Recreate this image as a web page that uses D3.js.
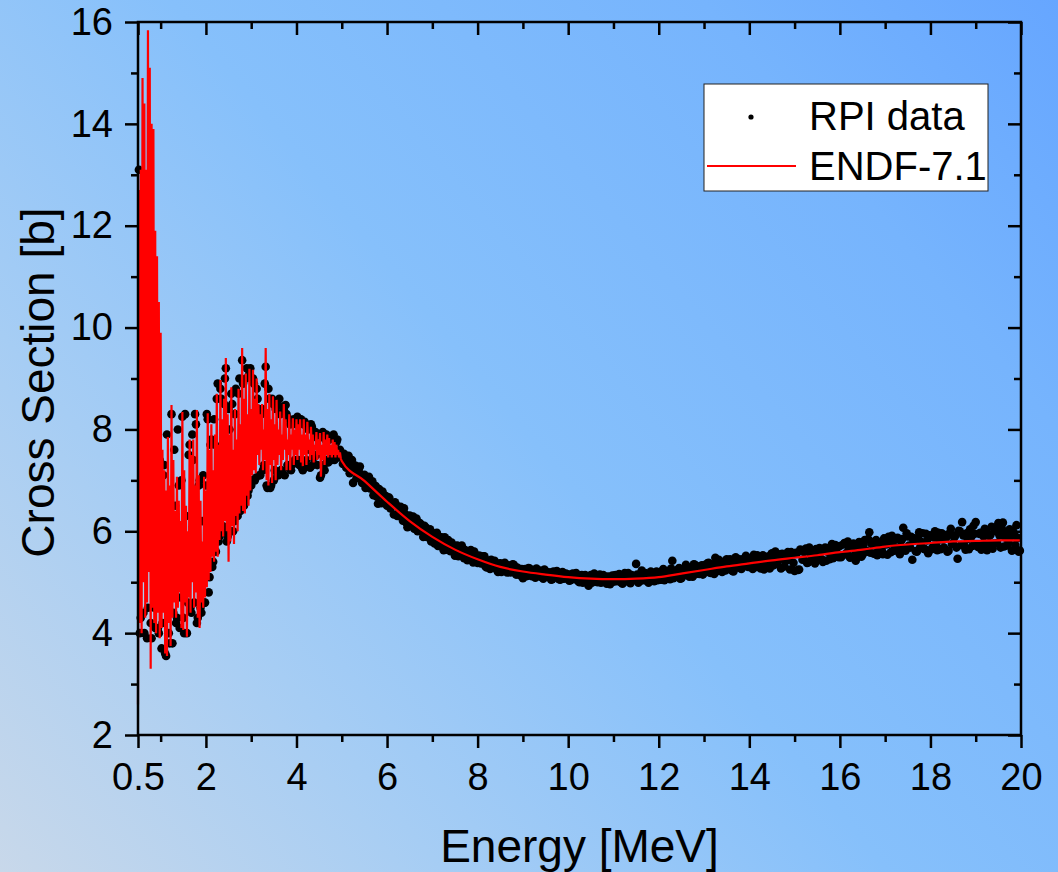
<!DOCTYPE html>
<html>
<head>
<meta charset="utf-8">
<script src="https://cdn.jsdelivr.net/npm/d3@7"></script>
<style>
  html, body { margin: 0; padding: 0; }
  svg { display: block; }
</style>
</head>
<body>
<svg id="chart" width="1058" height="872"></svg>
<script>
// ---------------- data ----------------
// Axis ticks
const xMajorTicks = [0.5, 2, 4, 6, 8, 10, 12, 14, 16, 18, 20];
const xTickLabels = ["0.5", "2", "4", "6", "8", "10", "12", "14", "16", "18", "20"];
const xMinorTicks = [1, 3, 5, 7, 9, 11, 13, 15, 17, 19];
const yMajorTicks = [2, 4, 6, 8, 10, 12, 14, 16];
const yMinorTicks = [3, 5, 7, 9, 11, 13, 15];

// ENDF-7.1 evaluation, resolved resonance region: [start energy (MeV), cross sections (b) every 0.02 MeV]
const endfStep = 0.02;
const endfResonance = [
  [0.50, [2.6, 12.7, 4.2, 13.1, 4.0, 14.9, 5.0, 14.4, 4.3, 13.1, 4.6, 15.84, 5.2, 15.1, 3.3, 14.0, 4.5, 13.9, 4.2, 11.9, 4.0, 11.4, 4.4, 10.5, 3.9, 9.9]],
  [1.02, [4.1, 7.6, 4.4, 7.2, 3.6, 6.8, 3.55, 7.85, 4.2, 6.9, 3.75, 8.48, 4.3, 7.4, 4.6, 6.4, 4.3, 7.07, 4.5, 6.6,
          4.8, 6.2, 4.1, 8.34, 4.06, 7.2, 4.6, 6.5, 3.93, 6.0, 4.7, 7.8, 4.4, 7.5, 5.0, 7.8, 4.5, 6.9, 4.8, 8.38,
          4.3, 7.1, 4.1, 6.6, 4.6, 5.8, 4.5, 7.07, 4.7, 6.8]],
  [2.02, [4.9, 8.32, 5.04, 7.6, 5.2, 8.1, 5.5, 7.2, 5.4, 7.9, 5.6, 8.7, 5.5, 7.7, 5.83, 8.97, 6.0, 8.2, 5.9, 8.6,
          6.2, 9.4, 6.0, 8.3, 5.4, 7.9, 5.8, 8.83, 6.1, 7.6, 5.75, 8.4, 6.3, 7.8, 6.0, 8.8, 6.35, 8.1, 6.5, 9.6,
          6.4, 8.6, 6.35, 9.1, 6.7, 8.3, 6.5, 9.19, 6.8, 8.4]],
  [3.02, [7.1, 9.17, 7.2, 8.6, 7.14, 9.0, 7.5, 8.5, 7.3, 8.3, 7.6, 8.5, 7.2, 8.0, 7.4, 9.6, 7.0, 8.4, 6.9, 8.7,
          7.3, 8.2, 6.95, 8.65, 7.4, 8.1, 7.0, 8.58, 7.3, 8.0, 7.5, 8.35, 7.2, 7.9, 7.4, 8.5, 7.6, 8.2, 7.2, 7.8,
          7.5, 8.3, 7.2, 7.9, 7.6, 8.22, 7.3, 8.0, 7.5, 8.2]],
  [4.02, [7.4, 8.1, 7.6, 8.2, 7.35, 7.9, 7.28, 8.2, 7.5, 7.9, 7.3, 8.15, 7.6, 7.8, 7.4, 8.05, 7.5, 7.9, 7.35, 7.7,
          7.6, 7.95, 7.4, 7.8, 7.5, 7.93, 7.07, 7.7, 7.4, 7.95, 7.3, 7.8, 7.5, 7.9, 7.45, 7.83, 7.5, 7.7, 7.45, 7.8,
          7.5, 7.75, 7.45, 7.7, 7.5, 7.6, 7.45, 7.55, 7.42]]
];

// ENDF-7.1 evaluation above the resonance region
const endfSmoothEnergy = [4.98, 5.0, 5.5, 6.0, 6.5, 7.0, 7.5, 8.0, 8.5, 9.0, 9.5, 10.0, 10.5, 11.0, 11.5, 12.0, 12.5,
                          13.0, 13.5, 14.0, 14.5, 15.0, 15.5, 16.0, 16.5, 17.0, 17.5, 18.0, 18.5, 19.0, 19.5, 20.0];
const endfSmoothXS = [7.42, 7.38, 6.99, 6.58, 6.20, 5.89, 5.64, 5.45, 5.30, 5.21, 5.15, 5.10, 5.07, 5.06, 5.07, 5.10, 5.17,
                      5.24, 5.31, 5.37, 5.43, 5.48, 5.53, 5.59, 5.64, 5.70, 5.74, 5.77, 5.80, 5.81, 5.82, 5.82];

// RPI transmission data in the resonance region, two interleaved runs every 0.04 MeV
const rpiResonanceStep = 0.04;
const rpiResonanceA = [ // from 0.52 MeV
  13.1, 4.3, 12.0, 4.0, 9.5, 4.5, 10.2, 3.9, 8.8, 4.1,
  8.2, 4.0, 6.9, 4.2, 7.3, 3.55, 6.7, 3.8, 8.3, 4.4,
  6.5, 4.3, 6.9, 4.7, 8.25, 4.0, 6.3, 4.6, 7.7, 4.4,
  7.4, 8.3, 4.2, 6.9, 4.5, 6.2, 4.6, 6.9, 8.2, 5.1,
  7.8, 5.4, 7.7, 8.6, 5.8, 8.8, 6.0, 8.5, 9.2, 5.9,
  8.0, 8.7, 6.0, 8.3, 6.4, 8.7, 6.4, 9.36, 6.5, 9.0,
  6.7, 9.1, 6.9, 9.0, 7.0, 8.8, 8.4, 7.1, 8.4, 7.3,
  9.23, 6.85, 8.6, 6.9, 8.5, 7.2, 8.5, 7.1, 8.3, 7.15,
  8.4, 8.48, 7.3, 8.2, 7.2, 8.15, 7.4, 8.1, 7.4, 8.15,
  7.25, 8.1, 7.3, 8.05, 7.6, 8.1, 7.3, 7.85, 7.5, 7.9,
  7.05, 7.85, 7.3, 7.8, 7.4, 7.8, 7.5, 7.85, 7.4, 7.75,
  7.5, 7.6
];
const rpiResonanceB = [ // from 0.54 MeV
  4.0, 11.2, 4.4, 8.0, 3.9, 12.5, 4.2, 9.0, 4.5, 7.8,
  4.1, 7.4, 3.7, 7.1, 3.6, 7.9, 4.0, 6.2, 3.8, 7.6,
  4.2, 8.0, 4.1, 7.0, 4.3, 8.3, 4.0, 7.5, 4.5, 7.9,
  4.6, 8.1, 4.3, 7.0, 4.4, 7.1, 4.6, 8.3, 4.8, 7.7,
  5.3, 8.2, 5.6, 8.9, 5.9, 8.6, 6.1, 9.0, 5.8, 8.4,
  6.0, 8.5, 6.2, 8.8, 6.3, 9.0, 6.6, 8.9, 6.6, 9.2,
  6.8, 9.2, 7.0, 8.9, 7.05, 8.6, 7.1, 8.3, 7.2, 8.9,
  6.9, 8.8, 6.85, 8.6, 7.0, 8.4, 7.1, 8.6, 7.2, 8.45,
  7.1, 8.3, 7.25, 8.1, 7.3, 8.2, 7.35, 8.25, 7.3, 8.2,
  7.2, 8.15, 7.4, 8.0, 7.25, 8.05, 7.45, 7.95, 7.3, 7.9,
  7.1, 7.95, 7.2, 7.9, 7.35, 7.85, 7.4, 7.9, 7.45, 7.8,
  7.45
];
const rpiResonanceStartA = 0.52;
const rpiResonanceStartB = 0.54;

// RPI transmission data, 5–20 MeV: one row per MeV, points every 0.05 MeV (run A from n.00, run B from n.025)
const rpiSmoothStep = 0.05;
const rpiSmoothFirstMeV = 5;
const rpiSmoothRowsA = [
  [7.48, 7.52, 7.25, 7.48, 7.30, 6.95, 7.29, 7.15, 7.27, 6.95, 7.11, 6.93, 7.07, 6.91, 6.71, 6.89, 6.54, 6.76, 6.78, 6.56],
  [6.50, 6.66, 6.53, 6.33, 6.52, 6.35, 6.48, 6.21, 6.34, 6.08, 6.31, 6.19, 6.05, 6.25, 6.03, 6.13, 5.89, 6.08, 5.92, 6.04],
  [5.95, 5.76, 5.97, 5.79, 5.88, 5.63, 5.78, 5.83, 5.61, 5.69, 5.52, 5.72, 5.55, 5.72, 5.47, 5.60, 5.51, 5.63, 5.39, 5.54],
  [5.38, 5.52, 5.39, 5.51, 5.29, 5.41, 5.44, 5.28, 5.35, 5.20, 5.37, 5.27, 5.38, 5.19, 5.31, 5.21, 5.34, 5.15, 5.26, 5.17],
  [5.08, 5.26, 5.18, 5.27, 5.12, 5.21, 5.27, 5.12, 5.17, 5.07, 5.22, 5.12, 5.19, 5.06, 5.17, 5.22, 5.06, 5.14, 5.07, 5.17],
  [5.15, 5.04, 5.17, 5.06, 5.11, 5.00, 5.14, 5.07, 5.11, 4.93, 5.14, 5.03, 5.10, 5.00, 5.15, 5.04, 5.11, 4.97, 5.10, 5.07],
  [5.01, 5.14, 5.04, 5.11, 4.97, 5.18, 5.09, 5.01, 5.14, 5.11, 5.36, 4.99, 5.11, 5.04, 5.18, 5.02, 5.15, 5.10, 5.02, 5.21],
  [5.14, 5.05, 5.26, 5.09, 5.22, 5.06, 5.42, 5.17, 5.11, 5.28, 5.08, 5.24, 5.34, 5.15, 5.28, 5.11, 5.34, 5.25, 5.16, 5.33],
  [5.33, 5.20, 5.38, 5.18, 5.30, 5.48, 5.22, 5.40, 5.20, 5.35, 5.45, 5.29, 5.40, 5.21, 5.49, 5.36, 5.28, 5.45, 5.32, 5.48],
  [5.31, 5.48, 5.54, 5.30, 5.44, 5.27, 5.53, 5.39, 5.50, 5.27, 5.57, 5.46, 5.36, 5.55, 5.27, 5.52, 5.41, 5.59, 5.25, 5.56],
  [5.22, 5.57, 5.25, 5.62, 5.45, 5.66, 5.39, 5.57, 5.62, 5.37, 5.57, 5.67, 5.45, 5.62, 5.42, 5.67, 5.59, 5.47, 5.73, 5.52],
  [5.71, 5.52, 5.77, 5.58, 5.67, 5.50, 5.76, 5.42, 5.72, 5.66, 5.54, 5.83, 5.60, 5.98, 5.75, 5.56, 5.83, 5.61, 5.73, 5.55],
  [5.80, 5.54, 5.76, 5.91, 5.62, 5.85, 5.68, 5.81, 6.07, 5.62, 5.90, 5.68, 5.44, 5.86, 5.60, 5.98, 5.79, 5.66, 5.95, 5.57],
  [5.91, 5.69, 6.00, 5.63, 5.84, 5.96, 5.68, 5.88, 5.62, 6.05, 5.76, 5.92, 5.46, 6.00, 6.18, 5.72, 5.96, 5.65, 5.89, 6.11],
  [6.18, 5.69, 5.97, 5.74, 6.05, 5.63, 5.91, 6.09, 5.76, 6.00, 6.16, 5.68, 6.17, 5.88, 5.72, 6.04, 5.62, 5.94, 6.12, 5.60]
];
const rpiSmoothRowsB = [
  [7.32, 7.46, 7.34, 7.14, 7.40, 7.19, 7.04, 7.21, 7.03, 7.10, 6.85, 7.00, 6.84, 6.98, 6.83, 6.68, 6.83, 6.55, 6.69, 6.69],
  [6.66, 6.45, 6.51, 6.57, 6.30, 6.45, 6.29, 6.45, 6.17, 6.26, 6.13, 6.29, 6.14, 6.00, 6.16, 6.00, 6.11, 5.89, 6.00, 5.80],
  [5.83, 5.96, 5.71, 5.88, 5.76, 5.88, 5.64, 5.74, 5.78, 5.60, 5.71, 5.51, 5.70, 5.54, 5.63, 5.43, 5.61, 5.45, 5.60, 5.42],
  [5.52, 5.37, 5.51, 5.31, 5.42, 5.26, 5.37, 5.42, 5.25, 5.36, 5.20, 5.36, 5.23, 5.33, 5.19, 5.35, 5.21, 5.29, 5.14, 5.26],
  [5.24, 5.12, 5.28, 5.16, 5.24, 5.09, 5.19, 5.23, 5.10, 5.25, 5.11, 5.19, 5.05, 5.21, 5.11, 5.17, 5.05, 5.20, 5.08, 5.14],
  [5.03, 5.15, 5.07, 5.18, 5.02, 5.12, 4.99, 5.14, 5.04, 5.12, 4.99, 5.17, 5.03, 5.12, 4.99, 5.14, 5.04, 5.11, 4.96, 5.13],
  [5.13, 5.02, 5.16, 4.99, 5.09, 5.02, 5.18, 4.98, 5.12, 5.05, 5.15, 5.02, 5.23, 5.05, 5.15, 4.99, 5.21, 5.06, 5.17, 5.04],
  [5.05, 5.22, 5.04, 5.18, 5.10, 5.27, 5.08, 5.19, 5.25, 5.07, 5.22, 5.14, 5.30, 5.11, 5.23, 5.35, 5.16, 5.31, 5.21, 5.15],
  [5.27, 5.37, 5.19, 5.35, 5.16, 5.34, 5.44, 5.25, 5.40, 5.23, 5.35, 5.45, 5.22, 5.40, 5.29, 5.45, 5.26, 5.40, 5.52, 5.30],
  [5.45, 5.26, 5.43, 5.53, 5.33, 5.50, 5.25, 5.47, 5.39, 5.54, 5.33, 5.60, 5.39, 5.47, 5.56, 5.31, 5.54, 5.44, 5.59, 5.38],
  [5.58, 5.24, 5.64, 5.44, 5.60, 5.38, 5.68, 5.50, 5.42, 5.65, 5.49, 5.62, 5.40, 5.68, 5.60, 5.45, 5.75, 5.55, 5.65, 5.49],
  [5.49, 5.74, 5.55, 5.80, 5.48, 5.70, 5.64, 5.54, 5.79, 5.50, 5.75, 5.62, 5.85, 5.58, 5.79, 5.72, 5.53, 5.77, 5.63, 5.86],
  [5.74, 5.89, 5.59, 5.80, 5.67, 5.87, 5.55, 5.85, 5.66, 5.96, 5.72, 5.89, 5.81, 5.61, 5.86, 5.69, 5.96, 5.65, 5.82, 5.92],
  [5.65, 5.88, 5.72, 5.97, 5.65, 5.84, 5.92, 5.60, 5.96, 5.75, 5.88, 5.68, 6.01, 5.73, 5.92, 5.64, 5.85, 6.04, 5.71, 5.95],
  [5.73, 5.95, 5.64, 5.90, 6.01, 5.75, 5.93, 5.66, 6.02, 5.77, 5.92, 6.06, 5.70, 5.97, 5.79, 5.90, 6.00, 5.73, 5.87, 5.62]
];
const rpiSmoothOffsetB = 0.025;

const seriesNames = ["RPI data", "ENDF-7.1"];

// ---------------- drawing ----------------
const W = 1058, H = 872;
const plot = { left: 138, right: 1021, top: 22, bottom: 735 };
const FONT = "'Liberation Sans', Arial, Helvetica, sans-serif";

const svg = d3.select("#chart");

// page background gradient
const defs = svg.append("defs");
const grad = defs.append("linearGradient")
  .attr("id", "bgGrad")
  .attr("gradientUnits", "userSpaceOnUse")
  .attr("x1", 0).attr("y1", H).attr("x2", W).attr("y2", 0);
grad.append("stop").attr("offset", 0).attr("stop-color", "#c8d8ea");
grad.append("stop").attr("offset", 0.25).attr("stop-color", "#a6cdf4");
grad.append("stop").attr("offset", 0.5).attr("stop-color", "#86c0fb");
grad.append("stop").attr("offset", 0.8).attr("stop-color", "#76b4fd");
grad.append("stop").attr("offset", 1).attr("stop-color", "#66a6ff");
svg.append("rect").attr("width", W).attr("height", H).attr("fill", "url(#bgGrad)");

const x = d3.scaleLinear().domain([0.5, 20]).range([plot.left, plot.right]);
const y = d3.scaleLinear().domain([2, 16]).range([plot.bottom, plot.top]);

// assemble point lists
const rpiPoints = [];
rpiResonanceA.forEach((v, i) => rpiPoints.push([rpiResonanceStartA + i * rpiResonanceStep, v]));
rpiResonanceB.forEach((v, i) => rpiPoints.push([rpiResonanceStartB + i * rpiResonanceStep, v]));
rpiSmoothRowsA.forEach((row, r) => {
  row.forEach((v, i) => rpiPoints.push([rpiSmoothFirstMeV + r + i * rpiSmoothStep, v]));
});
rpiSmoothRowsB.forEach((row, r) => {
  row.forEach((v, i) => rpiPoints.push([rpiSmoothFirstMeV + r + rpiSmoothOffsetB + i * rpiSmoothStep, v]));
});

const endfResPoints = [];
endfResonance.forEach(([e0, vals]) => {
  vals.forEach((v, i) => endfResPoints.push([e0 + i * endfStep, v]));
});
const endfSmoothPoints = endfSmoothEnergy.map((e, i) => [e, endfSmoothXS[i]]);

// RPI points
svg.append("g")
  .selectAll("circle")
  .data(rpiPoints)
  .join("circle")
  .attr("cx", d => x(d[0]))
  .attr("cy", d => y(d[1]))
  .attr("r", 4.3)
  .attr("fill", "#000");

// ENDF curve
const line = d3.line().x(d => x(d[0])).y(d => y(d[1]));
svg.append("path")
  .attr("d", line(endfResPoints))
  .attr("fill", "none")
  .attr("stroke", "#ff0000")
  .attr("stroke-width", 2.2)
  .attr("stroke-linejoin", "miter");
svg.append("path")
  .attr("d", line.curve(d3.curveMonotoneX)(endfSmoothPoints))
  .attr("fill", "none")
  .attr("stroke", "#ff0000")
  .attr("stroke-width", 2.2);

// axes
function styleAxis(g, fontSize) {
  g.select(".domain").remove();
  g.selectAll(".tick line").attr("stroke", "#000").attr("stroke-width", 2.5);
  g.attr("font-size", fontSize).attr("font-family", FONT);
  g.selectAll(".tick text").attr("fill", "#000");
}

const gxMajor = svg.append("g").attr("transform", `translate(0,${plot.bottom})`)
  .call(d3.axisBottom(x).tickValues(xMajorTicks).tickSize(13).tickPadding(15)
    .tickFormat((d, i) => xTickLabels[i]));
styleAxis(gxMajor, 38);
const gxMinor = svg.append("g").attr("transform", `translate(0,${plot.bottom})`)
  .call(d3.axisBottom(x).tickValues(xMinorTicks).tickSize(7).tickFormat(""));
styleAxis(gxMinor, 38);

const gxTop = svg.append("g").attr("transform", `translate(0,${plot.top})`)
  .call(d3.axisTop(x).tickValues(xMajorTicks).tickSize(-13).tickFormat(""));
styleAxis(gxTop, 38);
const gxTopMinor = svg.append("g").attr("transform", `translate(0,${plot.top})`)
  .call(d3.axisTop(x).tickValues(xMinorTicks).tickSize(-7).tickFormat(""));
styleAxis(gxTopMinor, 38);

const gyMajor = svg.append("g").attr("transform", `translate(${plot.left},0)`)
  .call(d3.axisLeft(y).tickValues(yMajorTicks).tickSize(13).tickPadding(12).tickFormat(d3.format("d")));
styleAxis(gyMajor, 38);
const gyMinor = svg.append("g").attr("transform", `translate(${plot.left},0)`)
  .call(d3.axisLeft(y).tickValues(yMinorTicks).tickSize(7).tickFormat(""));
styleAxis(gyMinor, 38);

const gyRight = svg.append("g").attr("transform", `translate(${plot.right},0)`)
  .call(d3.axisRight(y).tickValues(yMajorTicks).tickSize(-13).tickFormat(""));
styleAxis(gyRight, 38);
const gyRightMinor = svg.append("g").attr("transform", `translate(${plot.right},0)`)
  .call(d3.axisRight(y).tickValues(yMinorTicks).tickSize(-7).tickFormat(""));
styleAxis(gyRightMinor, 38);

// frame
svg.append("rect")
  .attr("x", plot.left).attr("y", plot.top)
  .attr("width", plot.right - plot.left).attr("height", plot.bottom - plot.top)
  .attr("fill", "none").attr("stroke", "#000").attr("stroke-width", 2.5);

// axis titles
svg.append("text")
  .attr("x", (plot.left + plot.right) / 2).attr("y", 862)
  .attr("text-anchor", "middle")
  .attr("font-family", FONT).attr("font-size", 46).attr("fill", "#000")
  .text("Energy [MeV]");
svg.append("text")
  .attr("transform", `translate(54,${(plot.top + plot.bottom) / 2 + 4}) rotate(-90)`)
  .attr("text-anchor", "middle")
  .attr("font-family", FONT).attr("font-size", 46).attr("fill", "#000")
  .text("Cross Section [b]");

// legend
const legend = svg.append("g");
legend.append("rect")
  .attr("x", 704).attr("y", 84).attr("width", 284).attr("height", 107)
  .attr("fill", "#fff").attr("stroke", "#222").attr("stroke-width", 1);
legend.append("circle").attr("cx", 751).attr("cy", 117).attr("r", 2.6).attr("fill", "#000");
legend.append("text").attr("x", 809).attr("y", 130)
  .attr("font-family", FONT).attr("font-size", 40).attr("fill", "#000").text(seriesNames[0]);
legend.append("line").attr("x1", 707).attr("x2", 796).attr("y1", 166).attr("y2", 166)
  .attr("stroke", "#ff0000").attr("stroke-width", 2);
legend.append("text").attr("x", 809).attr("y", 180)
  .attr("font-family", FONT).attr("font-size", 40).attr("fill", "#000").text(seriesNames[1]);
</script>
</body>
</html>
